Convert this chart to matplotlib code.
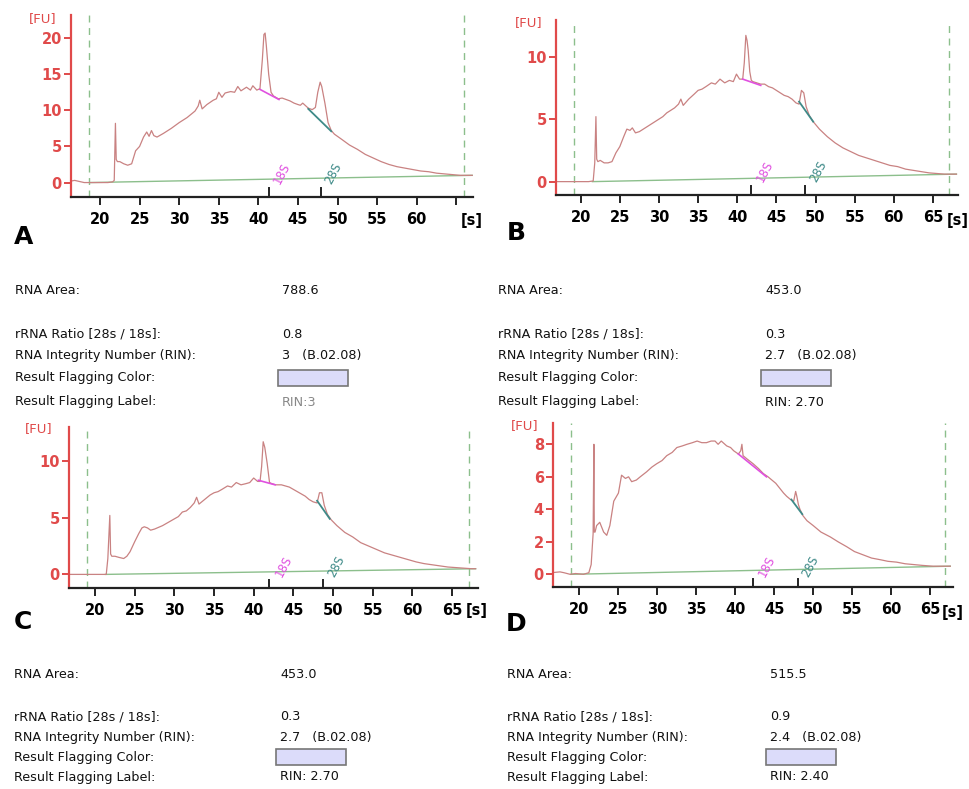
import matplotlib
matplotlib.use("Agg")
import matplotlib.pyplot as plt
from matplotlib.patches import Rectangle

W, H = 969, 789

# ---- traces: migration time [s] and fluorescence [FU] ----
tA = [16.3, 16.8, 17.2, 17.6, 18.0, 19.0, 20.0, 21.0, 21.6, 21.8,
      21.95, 22.05, 22.2, 22.5, 23.0, 23.5, 24.0, 24.5, 25.0, 25.5,
      25.9, 26.2, 26.5, 26.8, 27.2, 28.0, 29.0, 30.0, 31.0, 32.0,
      32.4, 32.6, 32.9, 33.5, 34.3, 34.7, 35.0, 35.4, 35.8, 36.5,
      37.0, 37.4, 37.8, 38.5, 39.0, 39.3, 39.8, 40.2, 40.5, 40.7,
      40.85, 41.0, 41.3, 41.6, 41.9, 42.5, 43.0, 43.5, 44.0, 44.5,
      45.0, 45.3, 45.6, 45.9, 46.3, 46.8, 47.2, 47.5, 47.8, 48.0,
      48.4, 48.8, 49.2, 49.6, 50.5, 51.5, 52.5, 53.5, 54.5, 55.5,
      56.5, 57.5, 58.5, 59.5, 60.5, 61.5, 62.5, 63.5, 64.5, 65.5,
      66.5, 67.0]
fuA = [0.2, 0.3, 0.2, 0.1, 0.0, 0.0, 0.0, 0.0, 0.1, 0.3,
       8.2, 3.2, 2.9, 2.9, 2.6, 2.4, 2.6, 4.4, 5.0, 6.3,
       7.0, 6.4, 7.2, 6.5, 6.3, 6.8, 7.5, 8.3, 9.0, 9.9,
       10.6, 11.4, 10.2, 10.8, 11.4, 11.6, 12.5, 11.8, 12.4, 12.6,
       12.5, 13.3, 12.7, 13.2, 12.8, 13.4, 12.8, 13.0, 17.0, 20.5,
       20.7, 19.0, 15.0, 12.5, 12.0, 11.6, 11.7, 11.5, 11.3, 11.0,
       10.8, 10.7, 11.0, 10.7, 10.3, 10.1, 10.4, 12.5, 13.9, 13.3,
       11.0, 8.3, 7.2, 6.7, 6.0, 5.2, 4.6, 3.9, 3.4, 2.9,
       2.5, 2.2, 2.0, 1.8, 1.6, 1.5, 1.3, 1.2, 1.1, 1.0,
       1.0, 1.0]

tB = [16.9, 18.0, 19.0, 20.0, 21.0, 21.6, 21.8, 21.95, 22.05, 22.2,
      22.5, 23.0, 23.5, 24.0, 24.5, 25.0, 25.5, 25.9, 26.3, 26.6,
      27.0, 27.5, 28.5, 29.5, 30.5, 31.0, 31.5, 32.0, 32.5, 32.8,
      33.1, 33.8, 34.5, 35.0, 35.5, 36.0, 36.7, 37.2, 37.8, 38.4,
      39.0, 39.5, 39.9, 40.3, 40.7, 40.9, 41.1, 41.25, 41.4, 41.6,
      41.8, 42.0, 42.5, 43.0, 43.5, 44.0, 44.5, 45.0, 45.5, 46.0,
      46.5, 47.0, 47.5, 47.9, 48.2, 48.5, 48.8, 49.2, 49.7, 50.5,
      51.5, 52.5, 53.5, 54.5, 55.5, 56.5, 57.5, 58.5, 59.5, 60.5,
      61.5, 62.5, 63.5, 64.5, 65.5, 66.5, 67.5, 68.0]
fuB = [0.0, 0.0, 0.0, 0.0, 0.0, 0.05, 1.5, 5.2, 1.8, 1.6,
       1.7, 1.5, 1.5, 1.6, 2.3, 2.8, 3.6, 4.2, 4.1, 4.3,
       3.9, 4.0, 4.4, 4.8, 5.2, 5.5, 5.7, 5.9, 6.2, 6.6,
       6.1, 6.6, 7.0, 7.3, 7.4, 7.6, 7.9, 7.8, 8.2, 7.9,
       8.1, 8.0, 8.6, 8.2, 8.2, 9.5, 11.7, 11.3, 10.5, 8.8,
       8.1, 8.0, 7.9, 7.8, 7.8, 7.6, 7.5, 7.3, 7.1, 6.9,
       6.8, 6.6, 6.3, 6.2, 7.3, 7.1, 6.0, 5.3, 4.8, 4.2,
       3.6, 3.1, 2.7, 2.4, 2.1, 1.9, 1.7, 1.5, 1.3, 1.2,
       1.0, 0.9, 0.8, 0.7, 0.65, 0.6, 0.6, 0.6]

tC = [16.8, 18.0, 19.0, 20.0, 21.0, 21.4, 21.6, 21.85, 21.95, 22.1,
      22.5, 23.0, 23.6, 24.0, 24.4, 25.0, 25.5, 25.9, 26.2, 26.6,
      27.0, 27.5, 28.5, 29.5, 30.5, 31.0, 31.5, 32.0, 32.5, 32.8,
      33.1, 33.8, 34.5, 35.0, 35.5, 36.0, 36.7, 37.2, 37.8, 38.4,
      39.0, 39.5, 40.0, 40.5, 40.8, 41.0, 41.2, 41.4, 41.7, 42.0,
      42.3, 42.8, 43.5, 44.0, 44.5, 45.0, 45.5, 46.0, 46.5, 47.0,
      47.5, 48.0, 48.3, 48.6, 48.9, 49.3, 49.8, 50.5, 51.5, 52.5,
      53.5, 54.5, 55.5, 56.5, 57.5, 58.5, 59.5, 60.5, 61.5, 62.5,
      63.5, 64.5, 65.5, 66.5, 67.5, 68.0]
fuC = [0.0, 0.0, 0.0, 0.0, 0.0, 0.0, 1.4, 5.2, 1.8, 1.6,
       1.6, 1.5, 1.4, 1.6, 2.0, 2.9, 3.6, 4.1, 4.2, 4.1,
       3.9, 4.0, 4.3, 4.7, 5.1, 5.5, 5.6, 5.9, 6.3, 6.8,
       6.2, 6.6, 7.0, 7.2, 7.3, 7.5, 7.8, 7.7, 8.1, 7.9,
       8.0, 8.1, 8.5, 8.2, 8.2, 9.5, 11.7, 11.2, 9.8, 8.1,
       8.0, 7.9, 7.9, 7.8, 7.7, 7.5, 7.3, 7.1, 6.9, 6.6,
       6.4, 6.3, 7.2, 7.2, 6.1, 5.3, 4.8, 4.3, 3.7, 3.3,
       2.8, 2.5, 2.2, 1.9, 1.7, 1.5, 1.3, 1.1, 0.95, 0.85,
       0.75, 0.65, 0.6, 0.55, 0.5, 0.5]

tD = [16.4, 17.5, 18.0, 18.8, 19.5, 20.5, 21.2, 21.5, 21.75, 21.85,
      21.9, 22.0, 22.2, 22.6, 23.1, 23.5, 23.9, 24.4, 25.0, 25.4,
      25.9, 26.3, 26.7, 27.3, 27.8, 28.6, 29.3, 29.9, 30.6, 31.2,
      31.9, 32.5, 33.2, 33.8, 34.5, 35.1, 35.7, 36.3, 36.9, 37.4,
      37.8, 38.2, 38.9, 39.4, 39.8, 40.4, 40.7, 40.85, 41.0, 41.5,
      42.3, 43.0, 43.6, 44.2, 44.7, 45.2, 45.7, 46.2, 46.6, 47.1,
      47.5, 47.75, 47.9, 48.1, 48.3, 48.7, 49.2, 50.0, 51.0, 52.2,
      53.2, 54.3, 55.3, 56.4, 57.5, 58.6, 59.6, 60.7, 61.8, 62.9,
      64.0, 65.4, 66.5, 67.6]
fuD = [0.1, 0.15, 0.1, 0.0, 0.05, 0.0, 0.1, 0.6, 2.5, 8.0,
       2.6, 2.6, 3.0, 3.2, 2.6, 2.4, 3.0, 4.5, 5.0, 6.1,
       5.9, 6.0, 5.7, 5.8, 6.0, 6.3, 6.6, 6.8, 7.0, 7.3,
       7.5, 7.8, 7.9, 8.0, 8.1, 8.2, 8.1, 8.1, 8.2, 8.2,
       8.0, 8.2, 7.9, 7.8, 7.6, 7.4, 7.6, 8.0, 7.3, 7.1,
       6.8, 6.5, 6.2, 6.0, 5.8, 5.6, 5.3, 5.0, 4.8, 4.6,
       4.5, 5.1, 4.8, 4.3, 4.0, 3.6, 3.3, 3.0, 2.6, 2.3,
       2.0, 1.7, 1.4, 1.2, 1.0, 0.9, 0.8, 0.75, 0.65, 0.6,
       0.55, 0.5, 0.5, 0.5]

# 18S / 28S peak bases (time pair, FU pair)
s18 = {"A": ([40.2, 42.6], [12.9, 11.5]), "B": ([40.7, 43.0], [8.2, 7.7]),
       "C": ([40.6, 42.7], [8.3, 7.9]), "D": ([40.4, 44.0], [7.4, 6.0])}
s28 = {"A": ([46.3, 49.2], [10.2, 7.1]), "B": ([47.9, 49.7], [6.4, 4.8]),
       "C": ([48.0, 49.6], [6.5, 4.9]), "D": ([47.2, 48.6], [4.6, 3.7])}
# baseline (time pair, FU pair)
base = {"A": ([18.7, 67.0], [0.0, 1.0]), "B": ([21.5, 68.0], [0.0, 0.6]),
        "C": ([21.3, 68.0], [0.0, 0.5]), "D": ([18.9, 67.6], [0.0, 0.5])}
# lower marker / end of run
window = {"A": [18.65, 66.0], "B": [19.1, 67.1], "C": [19.0, 67.2], "D": [18.9, 66.9]}
# fragment tick marks for 18S and 28S
frag = {"A": [41.3, 47.9], "B": [41.8, 48.6], "C": [41.9, 48.7], "D": [42.3, 48.0]}
frag_lbl = {"A": ([43.0, 49.5], 1.3), "B": ([43.5, 50.3], 0.8),
            "C": ([43.8, 50.4], 0.7), "D": ([44.0, 49.6], 0.47)}

xticks = [20, 25, 30, 35, 40, 45, 50, 55, 60, 65]
yticks = {"A": [0, 5, 10, 15, 20], "B": [0, 5, 10], "C": [0, 5, 10], "D": [0, 2, 4, 6, 8]}

row_labels = ["RNA Area:", "rRNA Ratio [28s / 18s]:", "RNA Integrity Number (RIN):",
              "Result Flagging Color:", "Result Flagging Label:"]
vals = {"A": ["788.6", "0.8", "3   (B.02.08)", "", "RIN:3"],
        "B": ["453.0", "0.3", "2.7   (B.02.08)", "", "RIN: 2.70"],
        "C": ["453.0", "0.3", "2.7   (B.02.08)", "", "RIN: 2.70"],
        "D": ["515.5", "0.9", "2.4   (B.02.08)", "", "RIN: 2.40"]}

traces = {"A": (tA, fuA), "B": (tB, fuB), "C": (tC, fuC), "D": (tD, fuD)}

# ---- layout in pixels ----
# axes box: left, right, top, bottom ; xlim ; ylim
boxes = {"A": ((71, 473, 15, 197), (16.34, 67.1), (-2.0, 23.2)),
         "B": ((556, 958, 20, 195), (16.85, 68.2), (-1.07, 12.93)),
         "C": ((69, 478, 427, 588), (16.7, 68.3), (-1.2, 13.0)),
         "D": ((553, 953, 423, 587), (16.6, 67.95), (-0.78, 9.31))}
fu_pos = {"A": (57, 19), "B": (542, 23), "C": (53, 429), "D": (538, 426)}
s_pos = {"A": (472, 220), "B": (958, 220), "C": (477, 611), "D": (953, 612)}
letter_pos = {"A": (24, 237), "B": (516, 233), "C": (23, 622), "D": (516, 624)}
table_x = {"A": (15, 282), "B": (498, 765), "C": (14, 280), "D": (507, 770)}
table_y = {"top": [291, 334, 355, 378, 402], "bottom": [675, 717, 738, 757, 777]}

RED = "#e04a4a"
TRACE = "#c98282"
MAG = "#e050e0"
TEAL = "#3e8a88"
GREEN = "#8cbf8c"

fig = plt.figure(figsize=(W / 100, H / 100), dpi=100)
fig.patch.set_facecolor("white")


def fx(px):
    return px / W


def fy(py):
    return 1 - py / H


for key in ["A", "B", "C", "D"]:
    (l, r, t, b), xl, yl = boxes[key]
    ax = fig.add_axes([fx(l), fy(b), (r - l) / W, (b - t) / H])
    ax.set_xlim(*xl)
    ax.set_ylim(*yl)
    for s in ["top", "right"]:
        ax.spines[s].set_visible(False)
    ax.spines["left"].set_color(RED)
    ax.spines["left"].set_linewidth(1.6)
    ax.spines["bottom"].set_color("#222222")
    ax.spines["bottom"].set_linewidth(1.6)

    ax.set_xticks(xticks)
    xl_labels = [str(v) for v in xticks]
    if key == "A":
        xl_labels[-1] = ""
    ax.set_xticklabels(xl_labels)
    ax.set_yticks(yticks[key])
    ax.tick_params(axis="x", direction="out", length=5.5, width=1.4, color="#222222",
                   pad=5, labelsize=10.5, labelcolor="black")
    ax.tick_params(axis="y", direction="out", length=5, width=1.4, color=RED,
                   pad=1.5, labelsize=10.5, labelcolor=RED)
    for lab in ax.get_xticklabels() + ax.get_yticklabels():
        lab.set_fontweight("bold")

    w0, w1 = window[key]
    ax.axvline(w0, color=GREEN, lw=1.0, ls=(0, (5, 4)))
    ax.axvline(w1, color=GREEN, lw=1.0, ls=(0, (5, 4)))

    bx, by = base[key]
    ax.plot(bx, by, color=GREEN, lw=1.0)

    t, fu = traces[key]
    ax.plot(t, fu, color=TRACE, lw=0.9)

    ax.plot(*s18[key], color=MAG, lw=1.2)
    ax.plot(*s28[key], color=TEAL, lw=1.3)

    for xf in frag[key]:
        ax.plot([xf, xf], [0, 0.05], color="#222222", lw=1.4,
                transform=ax.get_xaxis_transform(), clip_on=False)

    (x18, x28), ylab = frag_lbl[key]
    ax.text(x18, ylab, "18S", color=MAG, fontsize=8.5, rotation=62,
            ha="center", va="center")
    ax.text(x28, ylab, "28S", color=TEAL, fontsize=8.5, rotation=62,
            ha="center", va="center")

    # axis units
    px, py = fu_pos[key]
    fig.text(fx(px), fy(py), "[FU]", color=RED, fontsize=9.5, ha="right", va="center")
    px, py = s_pos[key]
    fig.text(fx(px), fy(py), "[s]", color="black", fontsize=10.5, fontweight="bold",
             ha="center", va="center")

    # panel letter
    px, py = letter_pos[key]
    fig.text(fx(px), fy(py), key, color="black", fontsize=18, fontweight="bold",
             ha="center", va="center")

    # result table
    lx, vx = table_x[key]
    rows = table_y["top"] if key in "AB" else table_y["bottom"]
    for i, (lbl, v) in enumerate(zip(row_labels, vals[key])):
        fig.text(fx(lx), fy(rows[i]), lbl, fontsize=9.2, ha="left", va="center",
                 color="#111111")
        if v:
            col = "#888888" if (key == "A" and i == 4) else "#111111"
            fig.text(fx(vx), fy(rows[i]), v, fontsize=9.2, ha="left", va="center",
                     color=col)
    cy = rows[3]
    fig.patches.append(Rectangle((fx(vx - 4), fy(cy + 8)), 70 / W, 16 / H,
                                 transform=fig.transFigure, facecolor="#dcdcfa",
                                 edgecolor="#777777", lw=1.2))

fig.savefig("out.png", dpi=100, facecolor="white")
